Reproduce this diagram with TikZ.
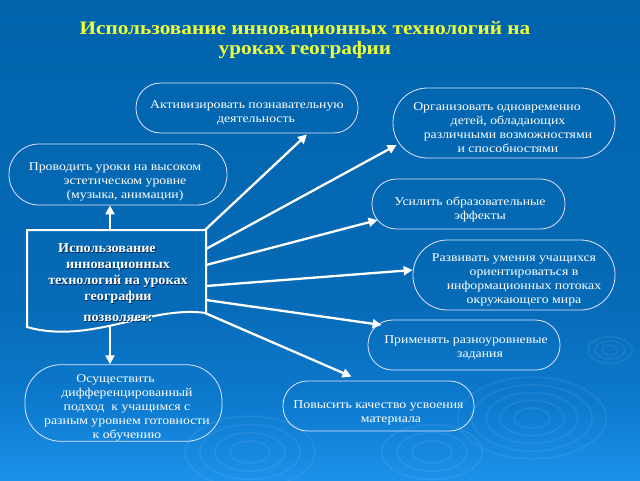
\documentclass[tikz,border=0pt]{standalone}
\usepackage{fontspec}
\setmainfont{Liberation Serif}
\newfontfamily\boxfont[FakeStretch=1.15]{Liberation Serif}
\newfontfamily\titlefont[FakeStretch=1.05]{Liberation Serif}
\newfontfamily\bigtitlefont[FakeStretch=1.12]{Liberation Serif}
\newcommand\tpad{\rule{0pt}{18pt}}
\usetikzlibrary{arrows.meta,calc}
\definecolor{bgtop}{RGB}{0,99,172}
\definecolor{bgmid}{RGB}{6,106,182}
\definecolor{bglow}{RGB}{13,122,206}
\definecolor{bgbot}{RGB}{28,146,234}
\definecolor{titleyellow}{RGB}{238,255,60}
\definecolor{shadowblue}{RGB}{0,40,90}
\pgfdeclareverticalshading{bgshade}{100bp}{color(0bp)=(bgbot); color(25bp)=(bgbot); color(33bp)=(bglow); color(44bp)=(bgmid); color(75bp)=(bgtop); color(100bp)=(bgtop)}
\tikzset{
  box/.style n args={3}{draw=white!90!blue, line width=0.8pt, minimum width=#1pt, minimum height=#2pt, rounded corners=#3pt, inner sep=0pt, align=center, text=white, font=\boxfont\fontsize{12}{14}\selectfont},
  arr/.style={draw=white, line width=2.3pt, -{Triangle[length=9pt,width=9pt]}},
  docline/.style={draw=white, line width=2pt},
  ripple/.style={draw=white, opacity=0.07, line width=1.6pt},
  ctext/.style={align=center, inner sep=0pt, font=\titlefont\bfseries\fontsize{13.5}{16}\selectfont}
}
\begin{document}
\begin{tikzpicture}[x=1pt,y=-1pt]
\useasboundingbox (0,0) rectangle (640,480);
\shade[shading=bgshade] (0,0) rectangle (640,480);
% ripples
\foreach \r in {18,32,46,60,74} \draw[ripple] (532,418) ellipse ({\r} and {\r*0.55});
\foreach \r in {8,15,22} \draw[ripple] (610,350) ellipse ({\r} and {\r*0.6});
\foreach \r in {20,35,50,65} \draw[ripple] (250,452) ellipse ({\r} and {\r*0.55});
\foreach \r in {20,35,50} \draw[ripple] (432,452) ellipse ({\r} and {\r*0.55});

% title
\node[align=center, text=titleyellow, font=\bigtitlefont\bfseries\fontsize{19}{20}\selectfont] (title) at (305,40)
  {Использование инновационных технологий на\\уроках географии};

% boxes
\node[box={222}{50}{24.5}] (A) at (247,108) {\tpad Активизировать познавательную\\\hspace*{18pt}деятельность};
\node[box={222}{70}{34.5}] (B) at (504,123) {\tpad Организовать одновременно\hspace*{14pt}\\\hspace*{8pt}детей, обладающих\\\hspace*{8pt}различными возможностями\\\hspace*{8pt}и способностями};
\node[box={218}{61}{30}] (C) at (118,174.5) {\rule{0pt}{22pt}Проводить уроки на высоком\hspace*{6pt}\\\hspace*{14pt}эстетическом уровне\\\hspace*{14pt}(музыка, анимации)};
\node[box={193}{50}{24.5}] (D) at (468.5,204) {\rule{0pt}{20pt}\hspace*{3pt}Усилить образовательные\\\hspace*{23pt}эффекты};
\node[box={202}{70}{34.5}] (E) at (514,275) {\tpad Развивать умения учащихся\\\hspace*{20pt}ориентироваться в\\\hspace*{20pt}информационных потоках\\\hspace*{20pt}окружающего мира};
\node[box={192}{50}{24.5}] (F) at (464,345) {\rule{0pt}{14pt}\hspace*{4pt}Применять разноуровневые\\\hspace*{32pt}задания};
\node[box={197}{76}{36}] (G) at (123.5,403) {\tpad Осуществить\hspace*{16pt}\\\hspace*{7pt}дифференцированный\\\hspace*{7pt}подход \ к учащимся с\\\hspace*{7pt}разным уровнем готовности\\\hspace*{7pt}к обучению};
\node[box={191}{50}{24.5}] (H) at (378.5,406) {\rule{0pt}{22pt}Повысить качество усвоения\\\hspace*{25pt}материала};

% central document shape
\coordinate (mtl) at (27,230);
\coordinate (mtr) at (206,230);
\coordinate (mbr) at (206,313);
\coordinate (mbl) at (27,327);
\draw[docline] (mtl) -- (mtr) -- (mbr) .. controls (150,305) and (90,345) .. (mbl) -- cycle;
\node[ctext, text=shadowblue] (Ms) at (118.8,283.8) {Использование\hspace*{22pt}\\инновационных\\технологий на уроках\\географии\\[5pt]позволяет:};
\node[ctext, text=white] (M) at (118,283) {Использование\hspace*{22pt}\\инновационных\\технологий на уроках\\географии\\[5pt]позволяет:};

% connector origins on the central shape
\coordinate (oC) at (110,230);
\coordinate (oG) at (110,325);
\coordinate (oA) at (205,230);
\coordinate (oB) at (206,249);
\coordinate (oD) at (206,265);
\coordinate (oE) at (206,286);
\coordinate (oF) at (206,300);
\coordinate (oH) at (205,313);

\draw[arr] (oC) -- ($(C.south)+(-8,0)$);
\draw[arr] (oG) -- ($(G.north)+(-13.5,0)$);
\draw[arr] (oA) -- ($(A.south)+(60,1)$);
\draw[arr] (oB) -- ($(B.west)+(4,22)$);
\draw[arr] (oD) -- ($(D.west)+(6,16)$);
\draw[arr] (oE) -- ($(E.west)+(0,-5)$);
\draw[arr] (oF) -- ($(F.west)+(14,-20)$);
\draw[arr] (oH) -- ($(H.north)+(-27,-4)$);
\end{tikzpicture}
\end{document}
